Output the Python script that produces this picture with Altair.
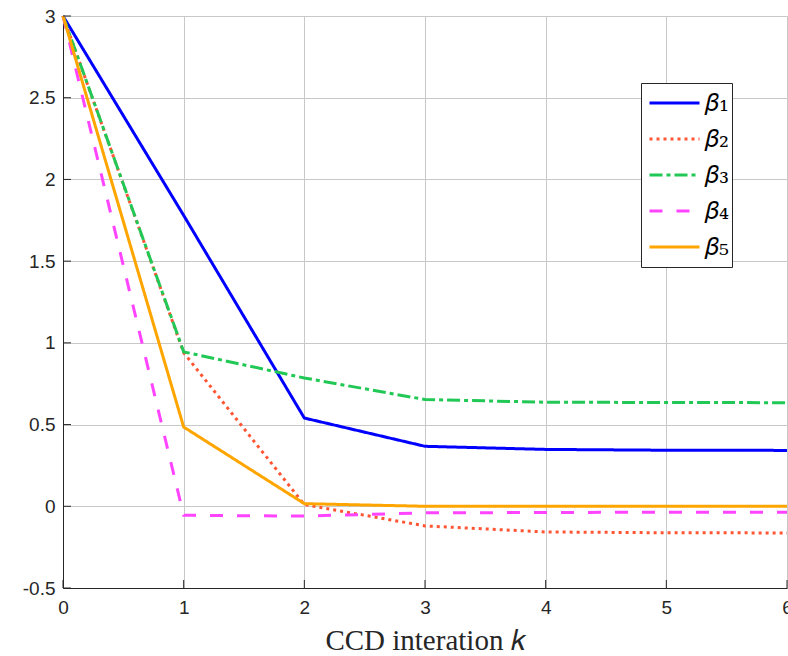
import altair as alt
import pandas as pd

k_vals = [0, 1, 2, 3, 4, 5, 6]
series_names = ["𝛽₁", "𝛽₂", "𝛽₃", "𝛽₄", "𝛽₅"]
beta1 = [3.0, 1.78, 0.54, 0.367, 0.348, 0.343, 0.342]
beta2 = [3.0, 0.94, 0.01, -0.12, -0.157, -0.162, -0.163]
beta3 = [3.0, 0.945, 0.785, 0.653, 0.637, 0.635, 0.634]
beta4 = [3.0, -0.055, -0.06, -0.04, -0.038, -0.036, -0.036]
beta5 = [3.0, 0.485, 0.016, 0.0, 0.0, 0.0, 0.0]

x_ticks = [0, 1, 2, 3, 4, 5, 6]
y_ticks = [-0.5, 0, 0.5, 1, 1.5, 2, 2.5, 3]

colors = ["#0000FF", "#FF5533", "#22C855", "#FF44FF", "#FFA500"]
dashes = [[1, 0], [3, 4], [13, 4, 4, 4], [13, 14], [1, 0]]

rows = []
for name, vals in zip(series_names, [beta1, beta2, beta3, beta4, beta5]):
    for k, v in zip(k_vals, vals):
        rows.append({"k": k, "value": v, "series": name})
df = pd.DataFrame(rows)

W, H = 724, 572
AX = "#262626"

x_scale = alt.Scale(domain=[0, 6], nice=False, zero=False)
y_scale = alt.Scale(domain=[-0.5, 3], nice=False, zero=False)
x_axis = alt.Axis(values=x_ticks, title="CCD interation 𝑘", ticks=False, grid=True,
                  labelFontSize=19, labelFont="Liberation Sans", labelColor=AX,
                  labelPadding=10, labelFlush=False, labelOverlap=False,
                  titleFont="Liberation Serif", titleFontSize=29,
                  titleFontWeight="normal", titleColor=AX, titlePadding=9,
                  domainColor=AX, gridColor="#c8c8c8", format="d")
y_axis = alt.Axis(values=y_ticks, title=None, ticks=False, grid=True,
                  labelFontSize=19, labelFont="Liberation Sans", labelColor=AX,
                  labelPadding=8, labelFlush=False, labelOverlap=False,
                  domainColor=AX, gridColor="#c8c8c8",
                  labelExpr="datum.value == 0 ? '0' : replace(format(datum.value, '.1~f'), '−', '-')")

legend = alt.Legend(title=None, orient="none", legendX=578, legendY=67,
                    symbolType="stroke", symbolSize=2500, symbolStrokeWidth=3,
                    labelFont="DejaVu Serif", labelFontSize=25,
                    labelColor="black", fillColor="white", strokeColor=AX, padding=2,
                    clipHeight=36, rowPadding=0, symbolOffset=5, labelOffset=4)

lines = alt.Chart(df).mark_line(strokeWidth=3).encode(
    x=alt.X("k:Q", scale=x_scale, axis=x_axis),
    y=alt.Y("value:Q", scale=y_scale, axis=y_axis),
    color=alt.Color("series:N", scale=alt.Scale(domain=series_names, range=colors), legend=legend),
    strokeDash=alt.StrokeDash("series:N", scale=alt.Scale(domain=series_names, range=dashes), legend=legend),
    order=alt.Order("k:Q"),
)

xt = alt.Chart(pd.DataFrame({"k": x_ticks})).mark_rule(color=AX, strokeWidth=1).encode(
    x=alt.X("k:Q", scale=x_scale, axis=x_axis),
    y=alt.value(H), y2=alt.value(H - 8),
)
yt = alt.Chart(pd.DataFrame({"value": y_ticks})).mark_rule(color=AX, strokeWidth=1).encode(
    y=alt.Y("value:Q", scale=y_scale, axis=y_axis),
    x=alt.value(0), x2=alt.value(8),
)

chart = alt.layer(lines, xt, yt).properties(
    width=W, height=H, autosize="none",
    padding={"left": 63, "top": 16, "right": 1, "bottom": 68},
).configure_view(stroke=None).configure(background="white")

chart.save("out.html", embed_options={"renderer": "svg", "actions": False})
